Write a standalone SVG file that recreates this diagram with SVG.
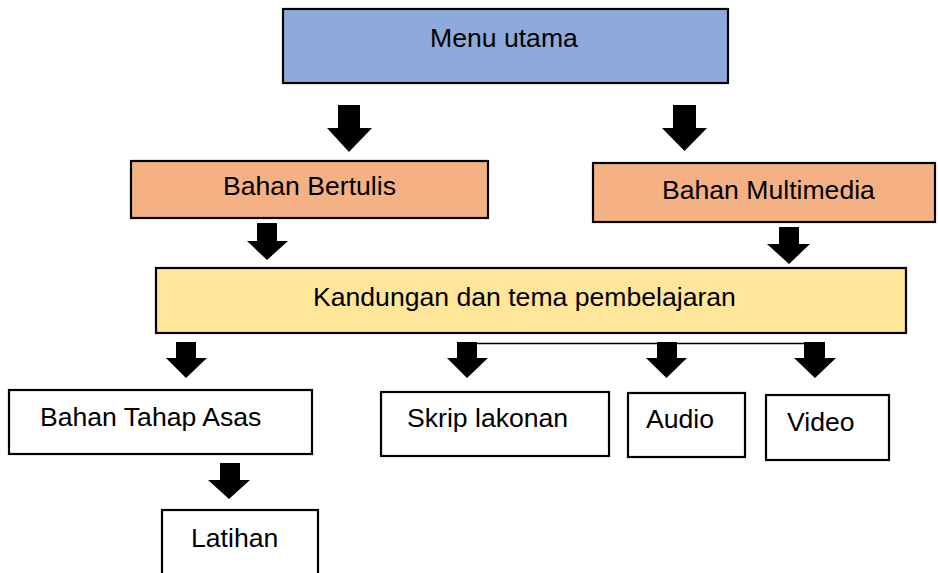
<svg xmlns="http://www.w3.org/2000/svg" width="938" height="573" viewBox="0 0 938 573">
<style>
.box{stroke:#000;stroke-width:2.2}
.w{fill:#fff}
.blue{fill:#8eaadb}
.orange{fill:#f4b183}
.yellow{fill:#ffe699}
.t{font-family:"Liberation Sans",Arial,sans-serif;font-size:26.6px;fill:#000}
.arr{fill:#000}
.ln{stroke:#000;stroke-width:1.5;fill:none}
</style>
<rect width="938" height="573" fill="#fff"/>
<g id="connectors">
<path class="arr" d="M338,105 H360 V128 H372 L349,152 L327,128 H338 Z"/>
<path class="arr" d="M673,105 H696 V128 H707 L684.5,151 L662,128 H673 Z"/>
<path class="arr" d="M257,223 H277 V241 H288 L267,260 L247,241 H257 Z"/>
<path class="arr" d="M779,227 H799 V244 H810 L789,264 L767,244 H779 Z"/>
<path class="arr" d="M176,342 H196 V358 H207 L186,378 L166,358 H176 Z"/>
<path class="arr" d="M457,342 H477 V358 H488 L467,378 L447,358 H457 Z"/>
<path class="arr" d="M657,342 H677 V358 H687 L666.5,378 L646,358 H657 Z"/>
<path class="arr" d="M804,342 H825 V358 H836 L815,378 L794,358 H804 Z"/>
<path class="arr" d="M220,463 H240 V480 H250 L229,499 L208,480 H220 Z"/>
<line class="ln" x1="477" y1="343.5" x2="804" y2="343.5"/>
</g>
<g id="menu-utama">
<rect class="box blue" x="283" y="9" width="445" height="74"/>
<text class="t" x="430" y="47">Menu utama</text>
</g>
<g id="bahan-bertulis">
<rect class="box orange" x="131" y="161" width="357" height="57"/>
<text class="t" x="223" y="195">Bahan Bertulis</text>
</g>
<g id="bahan-multimedia">
<rect class="box orange" x="593" y="163" width="342" height="59"/>
<text class="t" x="662" y="199">Bahan Multimedia</text>
</g>
<g id="kandungan">
<rect class="box yellow" x="156" y="268" width="750" height="65"/>
<text class="t" x="313" y="306">Kandungan dan tema pembelajaran</text>
</g>
<g id="bahan-tahap-asas">
<rect class="box w" x="9" y="390" width="303" height="64"/>
<text class="t" x="40" y="426">Bahan Tahap Asas</text>
</g>
<g id="skrip-lakonan">
<rect class="box w" x="381" y="392" width="228" height="64"/>
<text class="t" x="407" y="427">Skrip lakonan</text>
</g>
<g id="audio">
<rect class="box w" x="628" y="393" width="117" height="64"/>
<text class="t" x="646" y="428">Audio</text>
</g>
<g id="video">
<rect class="box w" x="766" y="395" width="123" height="65"/>
<text class="t" x="787" y="431">Video</text>
</g>
<g id="latihan">
<rect class="box w" x="162" y="510" width="156" height="70"/>
<text class="t" x="191" y="547">Latihan</text>
</g>
</svg>
